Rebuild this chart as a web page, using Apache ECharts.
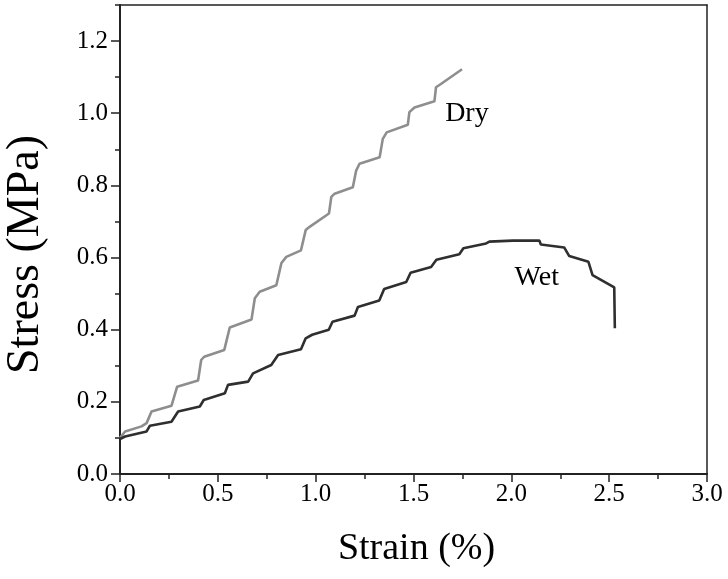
<!DOCTYPE html>
<html>
<head>
<meta charset="utf-8">
<script src="https://cdn.jsdelivr.net/npm/echarts@6/dist/echarts.min.js"></script>
<style>html,body{margin:0;padding:0;background:#fff;}#c{width:728px;height:579px;}</style>
</head>
<body>
<div id="c"></div>
<script>
// Strain (%) vs Stress (MPa)
const dryStrain = [0, 0.026, 0.11, 0.136, 0.161, 0.263, 0.292, 0.399, 0.415, 0.43, 0.533, 0.561, 0.672, 0.689, 0.714, 0.799, 0.825, 0.85, 0.925, 0.949, 0.969, 1.068, 1.080, 1.097, 1.190, 1.207, 1.224, 1.327, 1.343, 1.363, 1.471, 1.479, 1.505, 1.607, 1.615, 1.640, 1.748];
const dryStress = [0.10, 0.118, 0.132, 0.141, 0.173, 0.189, 0.242, 0.259, 0.316, 0.325, 0.344, 0.406, 0.428, 0.487, 0.505, 0.523, 0.585, 0.602, 0.620, 0.676, 0.685, 0.722, 0.768, 0.777, 0.795, 0.841, 0.860, 0.878, 0.929, 0.947, 0.968, 1.003, 1.016, 1.033, 1.072, 1.081, 1.122];
const wetStrain = [0, 0.026, 0.136, 0.153, 0.263, 0.297, 0.408, 0.428, 0.536, 0.552, 0.655, 0.680, 0.773, 0.808, 0.925, 0.949, 0.982, 1.067, 1.086, 1.199, 1.216, 1.325, 1.350, 1.463, 1.485, 1.590, 1.617, 1.734, 1.755, 1.871, 1.888, 2.007, 2.143, 2.151, 2.270, 2.296, 2.394, 2.415, 2.526, 2.529];
const wetStress = [0.097, 0.104, 0.118, 0.134, 0.145, 0.173, 0.187, 0.205, 0.224, 0.247, 0.256, 0.279, 0.302, 0.330, 0.346, 0.376, 0.386, 0.400, 0.422, 0.439, 0.463, 0.481, 0.513, 0.532, 0.558, 0.574, 0.594, 0.609, 0.626, 0.639, 0.644, 0.647, 0.647, 0.636, 0.628, 0.604, 0.588, 0.551, 0.517, 0.404];
const yMajorTicks = [0, 0.2, 0.4, 0.6, 0.8, 1.0, 1.2];
const yMinorTicks = [0.1, 0.3, 0.5, 0.7, 0.9, 1.1, 1.3];
const xTickInterval = 0.5;
const seriesNames = ['Dry', 'Wet'];
const labelPos = { Dry: [1.773, 0.998], Wet: [2.13, 0.545] };

const FONT = '"Liberation Serif", "Times New Roman", serif';
const AX = '#222';
const pair = (xs, ys) => xs.map((x, i) => [x, ys[i]]);

const chart = echarts.init(document.getElementById('c'), null, { renderer: 'canvas' });
const option = {
  backgroundColor: '#fff',
  animation: false,
  grid: { left: 120, right: 21, top: 5, bottom: 105, containLabel: false, outerBoundsMode: 'none' },
  xAxis: [{
    type: 'value', min: 0, max: 3, interval: xTickInterval,
    name: 'Strain (%)', nameLocation: 'middle', nameGap: 56,
    nameTextStyle: { fontFamily: FONT, fontSize: 38, color: '#000', padding: [0, 0, 0, 6] },
    axisLine: { show: true, onZero: false, lineStyle: { color: AX, width: 2 } },
    axisTick: { show: true, inside: false, length: 8, lineStyle: { color: AX, width: 1.5 } },
    minorTick: { show: true, splitNumber: 2, length: 5, lineStyle: { color: AX, width: 1.5 } },
    axisLabel: { fontFamily: FONT, fontSize: 25, color: '#000', margin: 8, formatter: v => v.toFixed(1) },
    splitLine: { show: false }
  }, {
    type: 'value', min: 0, max: 3, position: 'top',
    axisLine: { show: true, onZero: false, lineStyle: { color: AX, width: 1.5 } },
    axisTick: { show: false }, axisLabel: { show: false }, splitLine: { show: false }
  }],
  yAxis: [{
    type: 'value', min: 0, max: 1.3, interval: 0.1,
    name: 'Stress (MPa)', nameLocation: 'middle', nameGap: 71, nameRotate: 90,
    nameTextStyle: { fontFamily: FONT, fontSize: 46, color: '#000', padding: [0, 30, 0, 0] },
    axisLine: { show: true, onZero: false, lineStyle: { color: AX, width: 2 } },
    axisTick: { show: true, inside: false, length: 9, customValues: yMajorTicks, lineStyle: { color: AX, width: 1.5 } },
    axisLabel: { fontFamily: FONT, fontSize: 25, color: '#000', margin: 12, customValues: yMajorTicks, formatter: v => v.toFixed(1) },
    splitLine: { show: false }
  }, {
    type: 'value', min: 0, max: 1.3, position: 'left',
    axisLine: { show: false },
    axisTick: { show: true, inside: false, length: 5, customValues: yMinorTicks, lineStyle: { color: AX, width: 1.5 } },
    axisLabel: { show: false }, splitLine: { show: false }
  }, {
    type: 'value', min: 0, max: 1.3, position: 'right',
    axisLine: { show: true, onZero: false, lineStyle: { color: AX, width: 1.5 } },
    axisTick: { show: false }, axisLabel: { show: false }, splitLine: { show: false }
  }],
  series: [{
    name: seriesNames[0], type: 'line', xAxisIndex: 0, yAxisIndex: 0,
    data: pair(dryStrain, dryStress), showSymbol: false, smooth: false,
    lineStyle: { color: '#8e8e8e', width: 2.6 }, itemStyle: { color: '#8e8e8e' }
  }, {
    name: seriesNames[1], type: 'line', xAxisIndex: 0, yAxisIndex: 0,
    data: pair(wetStrain, wetStress), showSymbol: false, smooth: false,
    lineStyle: { color: '#2f2f2f', width: 2.6 }, itemStyle: { color: '#2f2f2f' }
  }]
};
chart.setOption(option);
const graphics = seriesNames.map(n => {
  const p = chart.convertToPixel({ xAxisIndex: 0, yAxisIndex: 0 }, labelPos[n]);
  return { type: 'text', x: p[0], y: p[1], style: { text: n, fontFamily: FONT, fontSize: 28, fill: '#000', align: 'center', verticalAlign: 'middle' } };
});
chart.setOption({ graphic: graphics });
</script>
</body>
</html>
